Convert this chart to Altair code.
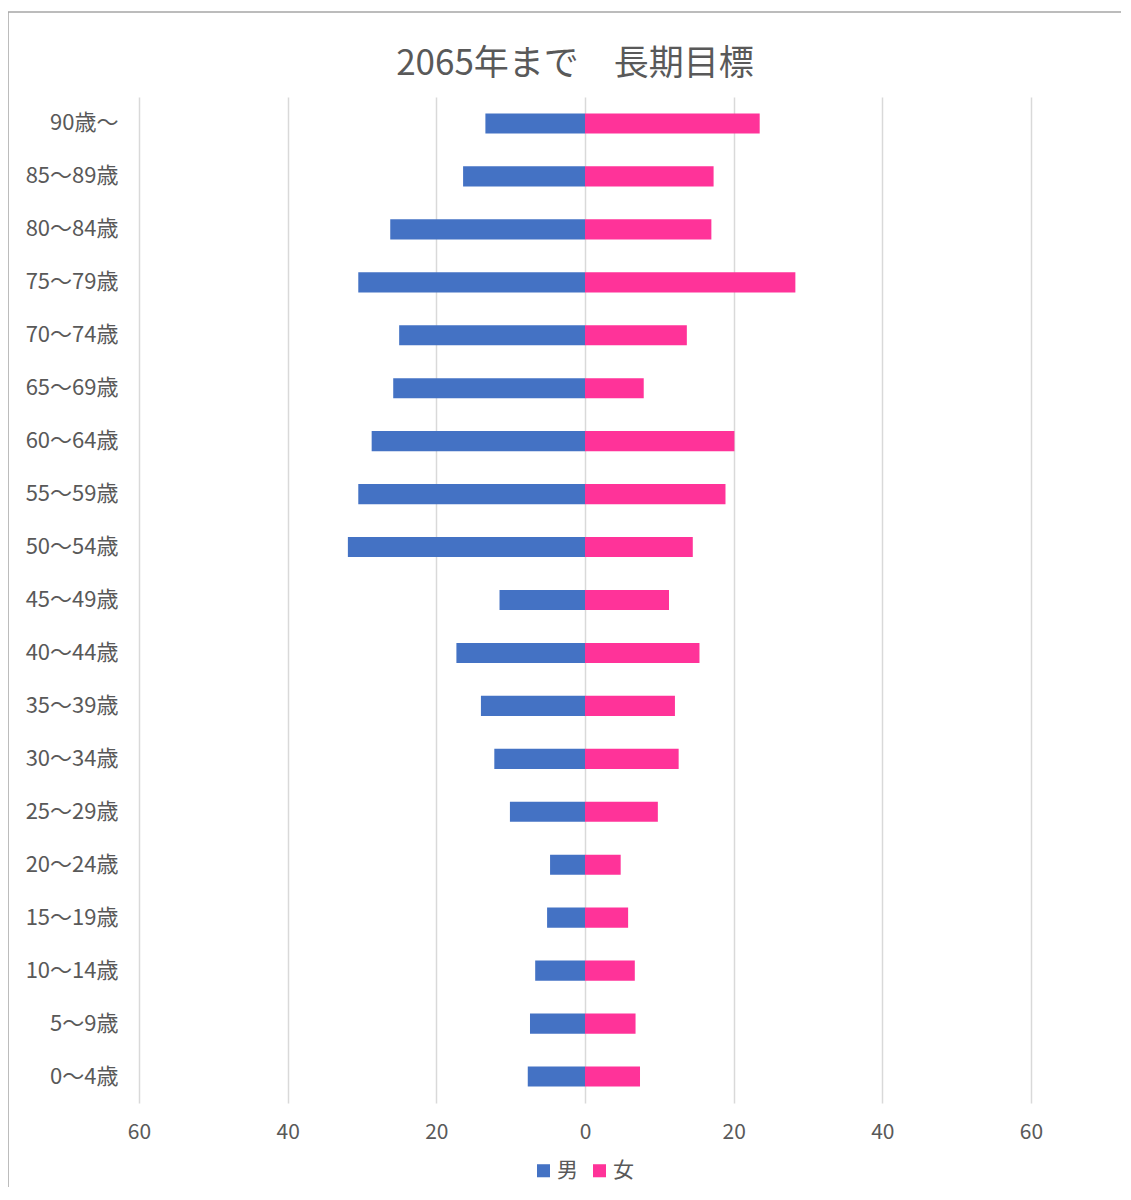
import altair as alt
import pandas as pd

ages = ["90歳～", "85～89歳", "80～84歳", "75～79歳", "70～74歳", "65～69歳",
        "60～64歳", "55～59歳", "50～54歳", "45～49歳", "40～44歳", "35～39歳",
        "30～34歳", "25～29歳", "20～24歳", "15～19歳", "10～14歳", "5～9歳", "0～4歳"]
male = [13.4, 16.4, 26.2, 30.5, 25.0, 25.8, 28.7, 30.5, 31.9, 11.5, 17.3, 14.0,
        12.2, 10.1, 4.7, 5.1, 6.7, 7.4, 7.7]
female = [23.5, 17.3, 17.0, 28.3, 13.7, 7.9, 20.1, 18.9, 14.5, 11.3, 15.4, 12.1,
          12.6, 9.8, 4.8, 5.8, 6.7, 6.8, 7.4]
sexes = ["男", "女"]
colors = ["#4472C4", "#FF3399"]

rows = []
for a, m, f in zip(ages, male, female):
    rows.append({"age": a, "sex": "男", "value": -m})
    rows.append({"age": a, "sex": "女", "value": f})
df = pd.DataFrame(rows)

FONT = "Noto Sans CJK JP"
W, H = 892, 1006

bars = alt.Chart(df).mark_bar().encode(
    x=alt.X("value:Q",
            scale=alt.Scale(domain=[-60, 60], nice=False),
            axis=alt.Axis(values=[-60, -40, -20, 0, 20, 40, 60],
                          labelExpr="abs(datum.value)",
                          title=None, grid=True, gridColor="#D9D9D9",
                          gridWidth=1.5, domain=False, ticks=False,
                          labelFlush=False,
                          labelPadding=18, labelFontSize=21,
                          labelColor="#595959", labelFont=FONT)),
    y=alt.Y("age:N", sort=ages,
            scale=alt.Scale(paddingInner=0.62, paddingOuter=0.31),
            axis=alt.Axis(title=None, domain=False, ticks=False,
                          labelPadding=21, labelFontSize=22,
                          labelColor="#595959", labelFont=FONT)),
    color=alt.Color("sex:N",
                    scale=alt.Scale(domain=sexes, range=colors),
                    legend=alt.Legend(title=None, orient="none",
                                      direction="horizontal",
                                      legendX=394, legendY=1063,
                                      symbolType="square", symbolSize=170,
                                      symbolStrokeWidth=0,
                                      labelFontSize=21, labelColor="#595959",
                                      labelFont=FONT, columnPadding=11,
                                      labelOffset=3)),
)

border_df = pd.DataFrame({"k": [1]})
top_rule = alt.Chart(border_df).mark_rule(color="#A6A6A6", strokeWidth=1.5).encode(
    x=alt.value(-131), x2=alt.value(990), y=alt.value(-85))
left_rule = alt.Chart(border_df).mark_rule(color="#A6A6A6", strokeWidth=1.5).encode(
    x=alt.value(-131), y=alt.value(-85), y2=alt.value(1090))

chart = alt.layer(bars, top_rule, left_rule).properties(
    width=W, height=H,
    title=alt.TitleParams("2065年まで　長期目標", fontSize=35, font=FONT,
                          fontWeight="normal", color="#595959",
                          anchor="middle", dx=-10, offset=-71),
    padding={"left": 131, "top": 89, "right": 90, "bottom": 85},
    autosize=alt.AutoSizeParams(type="none"),
).configure(background="white").configure_view(stroke=None)

chart.save("out.html", embed_options={"renderer": "svg", "actions": False})
